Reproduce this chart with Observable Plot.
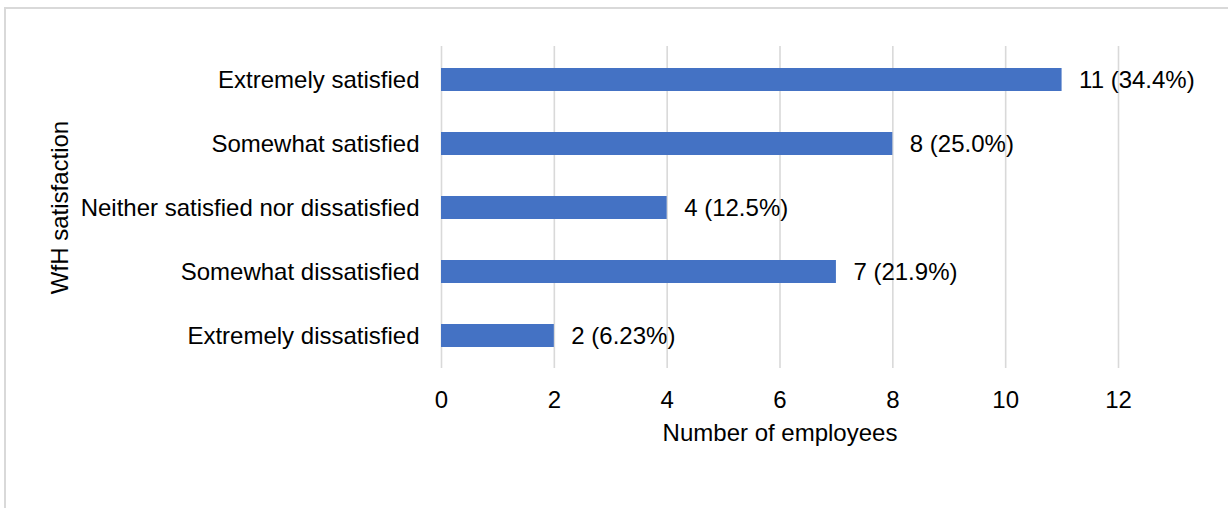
<!DOCTYPE html>
<html>
<head>
<meta charset="utf-8">
<script src="https://cdn.jsdelivr.net/npm/d3@7"></script>
<script src="https://cdn.jsdelivr.net/npm/@observablehq/plot@0.6"></script>
<style>
  html, body { margin: 0; padding: 0; background: #fff; overflow: hidden; }
  #frame { position: absolute; left: 4px; top: 7px; width: 1240px; height: 600px;
           border-left: 2px solid #d9d9d9; border-top: 2px solid #d9d9d9; box-sizing: border-box; }
  #chart { position: absolute; left: 0; top: 0; }
</style>
</head>
<body>
<div id="frame"></div>
<div id="chart"></div>
<script>
const categories = [
  "Extremely satisfied",
  "Somewhat satisfied",
  "Neither satisfied nor dissatisfied",
  "Somewhat dissatisfied",
  "Extremely dissatisfied"
];
const counts = [11, 8, 4, 7, 2];
const barLabels = ["11 (34.4%)", "8 (25.0%)", "4 (12.5%)", "7 (21.9%)", "2 (6.23%)"];
const xTicks = [0, 2, 4, 6, 8, 10, 12];

const data = categories.map((c, i) => ({category: c, count: counts[i], label: barLabels[i]}));

const FONT = "'Liberation Sans', Arial, sans-serif";
const FS = 24;

const chart = Plot.plot({
  width: 1228,
  height: 508,
  marginLeft: 441,
  marginRight: 110,
  marginTop: 46,
  marginBottom: 140,
  style: {fontFamily: FONT, fontSize: FS + "px", color: "#000", background: "transparent", overflow: "visible"},
  x: {domain: [0, 12]},
  y: {domain: categories, paddingInner: 0.645, paddingOuter: 0.3225},
  marks: [
    Plot.gridX(xTicks, {stroke: "#d9d9d9", strokeOpacity: 1, strokeWidth: 1.6}),
    Plot.barX(data, {x: "count", y: "category", fill: "#4472C4"}),
    Plot.text(data, {x: "count", y: "category", text: "label", textAnchor: "start", dx: 17,
                     fill: "#000", fontSize: FS, fontFamily: FONT}),
    Plot.axisX({ticks: xTicks, tickSize: 0, tickPadding: 22, fontSize: FS, fill: "#000",
                label: "Number of employees", labelAnchor: "center", labelOffset: 72, labelArrow: "none"}),
    Plot.axisY({tickSize: 0, tickPadding: 22, fontSize: FS, fill: "#000",
                label: "WfH satisfaction", labelAnchor: "center", labelOffset: 391, labelArrow: "none"})
  ]
});
document.getElementById("chart").appendChild(chart);
</script>
</body>
</html>
